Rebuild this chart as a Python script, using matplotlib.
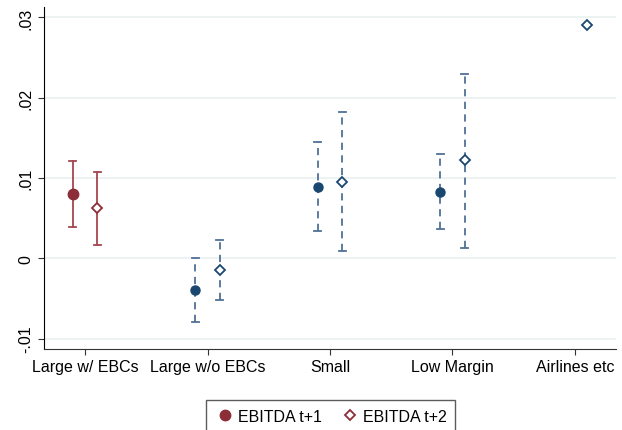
import matplotlib.pyplot as plt
import numpy as np

plt.rcParams['font.family'] = ['Liberation Sans', 'DejaVu Sans']

groups = ['Large w/ EBCs', 'Large w/o EBCs', 'Small', 'Low Margin', 'Airlines etc']

# EBITDA t+1: point estimate and CI
t1_est = [0.0080, -0.0039, 0.0089, 0.0083, np.nan]
t1_lo = [0.0039, -0.0079, 0.0034, 0.0037, np.nan]
t1_hi = [0.0121, 0.0000, 0.0145, 0.0130, np.nan]

# EBITDA t+2
t2_est = [0.0063, -0.0015, 0.0095, 0.0122, 0.0291]
t2_lo = [0.0017, -0.0052, 0.0009, 0.0013, np.nan]
t2_hi = [0.0108, 0.0023, 0.0182, 0.0230, np.nan]

yticks = [-0.01, 0, 0.01, 0.02, 0.03]
ytick_labels = ['-.01', '0', '.01', '.02', '.03']

red = '#8c2d37'
red_ci = '#a5474f'
navy = '#1a476f'
navy_ci = '#4f7196'

fig = plt.figure(figsize=(6.22, 4.31), dpi=100)
ax = fig.add_axes([44 / 622, 81 / 431, 572 / 622, 342 / 431])

x = np.arange(1, len(groups) + 1)
off = 0.1

for i in range(len(groups)):
    pt = red if i == 0 else navy
    ci = red_ci if i == 0 else navy_ci
    ls = '-' if i == 0 else (0, (4, 3))
    for est, lo, hi, dx, mk in [(t1_est, t1_lo, t1_hi, -off, 'o'),
                                 (t2_est, t2_lo, t2_hi, off, 'D')]:
        xi = x[i] + dx
        if not np.isnan(lo[i]):
            ax.plot([xi, xi], [lo[i], hi[i]], color=ci, lw=1.3, ls=ls, zorder=2)
            ax.plot([xi - 0.03, xi + 0.03], [lo[i], lo[i]], color=ci, lw=1.3, zorder=2)
            ax.plot([xi - 0.03, xi + 0.03], [hi[i], hi[i]], color=ci, lw=1.3, zorder=2)
        if np.isnan(est[i]):
            continue
        if mk == 'o':
            ax.plot(xi, est[i], marker='o', ms=7.5 if i == 0 else 6.5, color=pt,
                    ls='none', zorder=3)
        else:
            ax.plot(xi, est[i], marker='D', ms=5.5, mfc='white', mec=pt, mew=1.3,
                    ls='none', zorder=3)

ax.set_xlim(0.665, 5.335)
ax.set_ylim(-0.0113, 0.0313)
ax.set_xticks(x)
ax.set_xticklabels(groups, fontsize=11.5)
ax.set_yticks(yticks)
ax.set_yticklabels(ytick_labels, fontsize=11.5, rotation=90, va='center')
ax.yaxis.grid(True, color='#eaf1f1', lw=1.2)
ax.set_axisbelow(True)
for s in ['top', 'right']:
    ax.spines[s].set_visible(False)
ax.spines['left'].set_color('black')
ax.spines['bottom'].set_color('#333333')
ax.tick_params(axis='both', length=4.5, color='#333333', pad=3)

h1 = plt.Line2D([], [], marker='o', ms=7.5, color=red, ls='none')
h2 = plt.Line2D([], [], marker='D', ms=5.5, mfc='white', mec=red, mew=1.3, ls='none')
fig.legend([h1, h2], ['EBITDA t+1', 'EBITDA t+2'], loc='lower center',
           bbox_to_anchor=(0.532, -0.025), ncol=2, fontsize=11.5, frameon=True,
           fancybox=False, edgecolor='#333333', handletextpad=0.2,
           handlelength=1.2, columnspacing=1.2, borderpad=0.55)

fig.savefig('out.png', dpi=100)
